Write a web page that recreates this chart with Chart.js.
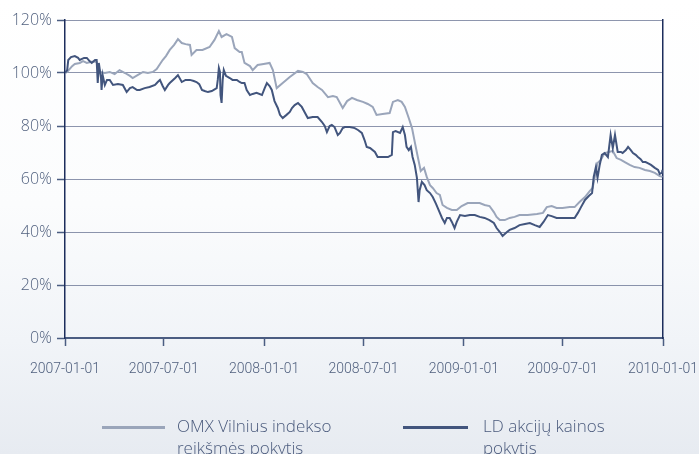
<!DOCTYPE html>
<html>
<head>
<meta charset="utf-8">
<script src="https://cdn.jsdelivr.net/npm/chart.js@4.4.0/dist/chart.umd.min.js"></script>
<style>
  html, body { margin: 0; padding: 0; }
  #wrap {
    position: relative; width: 699px; height: 454px; overflow: hidden;
    background: linear-gradient(to bottom, #ffffff 0%, #fbfcfd 45%, #f1f4f8 75%, #e7ebf1 100%);
  }
  #c { position: absolute; left: 0; top: 0; }
  .leg { position: absolute; font-family: "Open Sans", sans-serif; font-weight: 300;
         font-size: 17px; line-height: 22px; color: #4a5a7c; }
  .leg .sw { position: absolute; height: 3px; }
</style>
</head>
<body>
<div id="wrap">
  <canvas id="c" width="699" height="454"></canvas>
  <div class="leg" style="left:0;top:0;width:699px;height:454px;">
    <div class="sw" style="left:102px;top:426px;width:63px;background:#9aa5ba;"></div>
    <div style="position:absolute;left:177px;top:415px;">OMX Vilnius indekso<br>reikšmės pokytis</div>
    <div class="sw" style="left:403px;top:426px;width:65px;background:#42557d;"></div>
    <div style="position:absolute;left:483px;top:415px;">LD akcijų kainos<br>pokytis</div>
  </div>
</div>
<script>
// x axis tick dates
var tickDates = ['2007-01-01','2007-07-01','2008-01-01','2008-07-01','2009-01-01','2009-07-01','2010-01-01'];

// OMX Vilnius index change, % of 2007-01-01
var omxDates = ['2007-01-01','2007-01-05','2007-01-14','2007-01-19','2007-01-28','2007-02-03','2007-02-10','2007-02-19','2007-02-28','2007-03-04',
  '2007-03-06','2007-03-15','2007-03-24','2007-04-02','2007-04-11','2007-04-21','2007-04-30','2007-05-05','2007-05-14','2007-05-24',
  '2007-06-02','2007-06-11','2007-06-18','2007-06-29','2007-07-05','2007-07-12','2007-07-20','2007-07-27','2007-08-03','2007-08-10',
  '2007-08-18','2007-08-21','2007-08-30','2007-09-10','2007-09-23','2007-10-02','2007-10-10','2007-10-15','2007-10-24','2007-11-03',
  '2007-11-08','2007-11-17','2007-11-21','2007-11-26','2007-12-06','2007-12-11','2007-12-20','2007-12-31','2008-01-11','2008-01-17',
  '2008-01-24','2008-02-04','2008-02-17','2008-03-03','2008-03-12','2008-03-19','2008-03-30','2008-04-08','2008-04-16','2008-04-27',
  '2008-05-06','2008-05-13','2008-05-24','2008-06-01','2008-06-10','2008-06-19','2008-06-30','2008-07-09','2008-07-18','2008-07-25',
  '2008-08-05','2008-08-18','2008-08-24','2008-09-02','2008-09-09','2008-09-15','2008-09-22','2008-09-28','2008-10-03','2008-10-09',
  '2008-10-14','2008-10-20','2008-10-25','2008-10-31','2008-11-05','2008-11-12','2008-11-18','2008-11-23','2008-12-01','2008-12-10',
  '2008-12-19','2008-12-28','2009-01-08','2009-01-19','2009-01-30','2009-02-08','2009-02-17','2009-02-25','2009-03-02','2009-03-08',
  '2009-03-17','2009-03-26','2009-04-04','2009-04-13','2009-04-28','2009-05-15','2009-05-26','2009-06-02','2009-06-11','2009-06-20',
  '2009-07-01','2009-07-14','2009-07-23','2009-08-01','2009-08-11','2009-08-20','2009-08-25','2009-08-29','2009-09-03','2009-09-09',
  '2009-09-16','2009-09-24','2009-10-01','2009-10-08','2009-10-16','2009-10-23','2009-11-01','2009-11-10','2009-11-19','2009-11-29',
  '2009-12-08','2009-12-17','2009-12-26','2009-12-31'];
var omxValues = [100.0,100.4,102.6,103.4,103.8,104.5,103.8,104.2,104.2,101.9,
  100.4,100.0,100.4,99.6,101.1,100.0,98.9,98.1,99.2,100.4,
  100.0,100.4,101.5,104.9,106.4,108.7,110.6,112.8,111.3,110.9,
  110.6,106.8,108.7,108.7,109.8,112.5,115.8,113.6,114.7,113.6,
  109.4,107.9,107.9,103.8,102.6,101.1,103.0,103.4,103.8,101.1,
  94.3,96.2,98.5,100.8,100.4,99.6,96.2,94.7,93.6,90.9,
  91.3,90.9,86.8,89.4,90.6,89.8,89.1,88.3,87.2,84.2,
  84.5,84.9,89.1,89.8,89.1,87.2,83.0,79.2,74.0,67.9,
  63.0,64.2,60.8,57.7,56.6,54.7,54.0,50.2,49.1,48.3,
  48.3,49.8,50.9,50.9,50.9,50.2,49.8,47.5,45.7,44.5,
  44.5,45.3,45.7,46.4,46.4,46.8,47.2,49.4,49.8,49.1,
  49.1,49.4,49.4,51.3,53.2,55.5,56.6,60.8,66.0,67.2,
  69.8,70.2,70.6,67.9,67.2,66.4,65.3,64.5,64.2,63.4,
  63.0,62.3,61.1,60.8];

// LD share price change, % of 2007-01-01
var ldDates = ['2007-01-01','2007-01-05','2007-01-07','2007-01-12','2007-01-19','2007-01-25','2007-01-28','2007-02-05','2007-02-10','2007-02-15',
  '2007-02-19','2007-02-25','2007-02-28','2007-03-02','2007-03-04','2007-03-08','2007-03-09','2007-03-11','2007-03-15','2007-03-19',
  '2007-03-24','2007-03-30','2007-04-08','2007-04-17','2007-04-24','2007-04-30','2007-05-05','2007-05-13','2007-05-18','2007-05-27',
  '2007-06-05','2007-06-15','2007-06-20','2007-06-24','2007-06-29','2007-07-03','2007-07-09','2007-07-12','2007-07-22','2007-07-27',
  '2007-08-03','2007-08-10','2007-08-18','2007-08-25','2007-08-30','2007-09-04','2007-09-09','2007-09-14','2007-09-20','2007-09-27',
  '2007-10-06','2007-10-08','2007-10-10','2007-10-12','2007-10-13','2007-10-15','2007-10-17','2007-10-19','2007-10-23','2007-10-30',
  '2007-11-04','2007-11-12','2007-11-17','2007-11-21','2007-11-26','2007-11-30','2007-12-06','2007-12-11','2007-12-18','2007-12-28',
  '2008-01-02','2008-01-06','2008-01-11','2008-01-15','2008-01-20','2008-01-26','2008-01-30','2008-02-04','2008-02-11','2008-02-17',
  '2008-02-21','2008-02-26','2008-03-03','2008-03-10','2008-03-15','2008-03-21','2008-03-30','2008-04-08','2008-04-16','2008-04-21',
  '2008-04-25','2008-04-30','2008-05-04','2008-05-09','2008-05-15','2008-05-19','2008-05-24','2008-05-28','2008-06-06','2008-06-15',
  '2008-06-21','2008-06-28','2008-07-03','2008-07-07','2008-07-13','2008-07-22','2008-07-27','2008-08-05','2008-08-15','2008-08-22',
  '2008-08-24','2008-08-29','2008-09-06','2008-09-11','2008-09-15','2008-09-18','2008-09-22','2008-09-26','2008-09-29','2008-10-03',
  '2008-10-07','2008-10-10','2008-10-12','2008-10-16','2008-10-21','2008-10-25','2008-10-31','2008-11-05','2008-11-11','2008-11-18',
  '2008-11-22','2008-11-27','2008-12-01','2008-12-06','2008-12-10','2008-12-15','2008-12-19','2008-12-25','2009-01-03','2009-01-12',
  '2009-01-21','2009-01-30','2009-02-08','2009-02-17','2009-02-25','2009-03-02','2009-03-08','2009-03-13','2009-03-21','2009-03-26',
  '2009-04-04','2009-04-13','2009-04-23','2009-05-02','2009-05-11','2009-05-20','2009-05-27','2009-06-04','2009-06-11','2009-06-20',
  '2009-06-29','2009-07-09','2009-07-18','2009-07-23','2009-07-29','2009-08-03','2009-08-11','2009-08-18','2009-08-24','2009-08-27',
  '2009-08-31','2009-09-03','2009-09-07','2009-09-11','2009-09-16','2009-09-22','2009-09-27','2009-10-01','2009-10-05','2009-10-10',
  '2009-10-16','2009-10-19','2009-10-25','2009-10-29','2009-11-03','2009-11-07','2009-11-12','2009-11-16','2009-11-21','2009-11-25',
  '2009-11-30','2009-12-04','2009-12-10','2009-12-17','2009-12-23','2009-12-26','2009-12-30','2009-12-31'];
var ldValues = [100.0,101.1,104.9,106.0,106.4,105.7,104.9,105.7,105.7,104.5,
  103.8,104.9,104.9,96.2,103.8,98.1,93.6,99.2,95.5,97.4,
  97.4,95.5,95.8,95.5,92.8,94.3,94.7,93.6,93.6,94.3,
  94.7,95.5,96.6,97.4,95.1,93.6,95.5,96.2,98.1,99.2,
  96.6,97.4,97.4,97.0,96.6,95.8,93.6,93.2,92.8,93.2,
  94.3,97.4,101.9,100.4,91.7,88.7,97.4,101.1,98.9,98.1,
  97.4,97.4,96.6,96.2,96.2,93.6,91.7,92.1,92.5,91.7,
  94.3,96.2,95.1,93.6,89.4,86.8,84.2,83.0,84.2,85.3,
  86.8,87.9,88.7,87.2,85.3,83.0,83.4,83.4,81.5,80.0,
  77.7,80.0,80.4,79.6,76.6,77.4,79.2,79.6,79.6,79.2,
  78.5,77.4,74.7,72.1,71.7,70.2,68.3,68.3,68.3,69.1,
  77.7,78.1,77.4,79.6,76.6,72.1,70.9,72.1,68.3,65.3,
  60.4,51.3,55.8,58.9,57.7,55.8,54.7,53.2,50.6,47.2,
  45.3,43.4,45.3,45.3,43.8,41.5,43.8,46.4,46.0,46.4,
  46.4,45.7,45.3,44.5,43.4,41.5,40.0,38.5,40.0,40.8,
  41.5,42.6,43.0,43.4,42.6,41.9,43.8,46.4,46.0,45.3,
  45.3,45.3,45.3,45.3,47.2,49.1,52.1,53.6,54.7,60.8,
  64.5,60.4,65.3,69.1,69.8,68.3,76.6,71.7,76.6,70.2,
  70.2,69.8,70.9,72.1,70.9,69.8,69.1,68.3,67.5,66.4,
  66.4,66.0,65.3,64.2,63.4,61.9,62.3,63.4];

function toTime(s) {
  var p = s.split('-');
  return Date.UTC(+p[0], +p[1] - 1, +p[2]);
}
function pairs(dates, vals) {
  return dates.map(function(d, i) { return { x: toTime(d), y: vals[i] }; });
}

var tickColor = '#51617f';

new Chart(document.getElementById('c'), {
  type: 'line',
  data: {
    datasets: [
      { label: 'LD akcijų kainos pokytis', data: pairs(ldDates, ldValues), order: 0,
        borderColor: '#42557d', borderWidth: 2, pointRadius: 0, tension: 0 },
      { label: 'OMX Vilnius indekso reikšmės pokytis', data: pairs(omxDates, omxValues), order: 1,
        borderColor: '#9aa5ba', borderWidth: 2, pointRadius: 0, tension: 0 }
    ]
  },
  options: {
    responsive: false,
    animation: false,
    devicePixelRatio: 1,
    layout: { padding: { left: 0, right: 36, top: 20, bottom: 76 } },
    plugins: { legend: { display: false }, tooltip: { enabled: false } },
    scales: {
      x: {
        type: 'linear',
        min: toTime('2007-01-01'),
        max: toTime('2010-01-01'),
        afterBuildTicks: function(s) {
          s.ticks = tickDates.map(function(d) { return { value: toTime(d) }; });
        },
        afterFit: function(s) { s.height = 40; s.paddingLeft = 0; s.paddingRight = 0; },
        grid: { drawOnChartArea: false, drawTicks: true, tickLength: 8, tickColor: '#4b5d82', tickWidth: 1.5 },
        border: { color: '#4b5d82', width: 2 },
        ticks: {
          autoSkip: false, maxRotation: 0, padding: 15, color: tickColor,
          font: { family: 'Roboto, "Liberation Sans", sans-serif', size: 14, weight: 300 },
          callback: function(v) { return new Date(v).toISOString().slice(0, 10); }
        }
      },
      y: {
        min: 0, max: 120,
        afterFit: function(s) { s.width = 65; },
        grid: { color: '#1c2d5c', lineWidth: 1, tickLength: 8, tickColor: '#4b5d82', tickWidth: 1.5, tickBorderDash: [] },
        border: { color: '#1c2d5c', width: 1.5, dash: [1, 1] },
        ticks: {
          stepSize: 20, padding: 5, color: tickColor,
          font: { family: '"Open Sans", sans-serif', size: 16, weight: 300 },
          callback: function(v) { return v + '%'; }
        }
      },
      y2: {
        position: 'right', min: 0, max: 120,
        afterFit: function(s) { s.width = 0; },
        grid: { display: false },
        border: { color: '#1c2d5c', width: 1.5 },
        ticks: { display: false }
      }
    }
  }
});
</script>
</body>
</html>
